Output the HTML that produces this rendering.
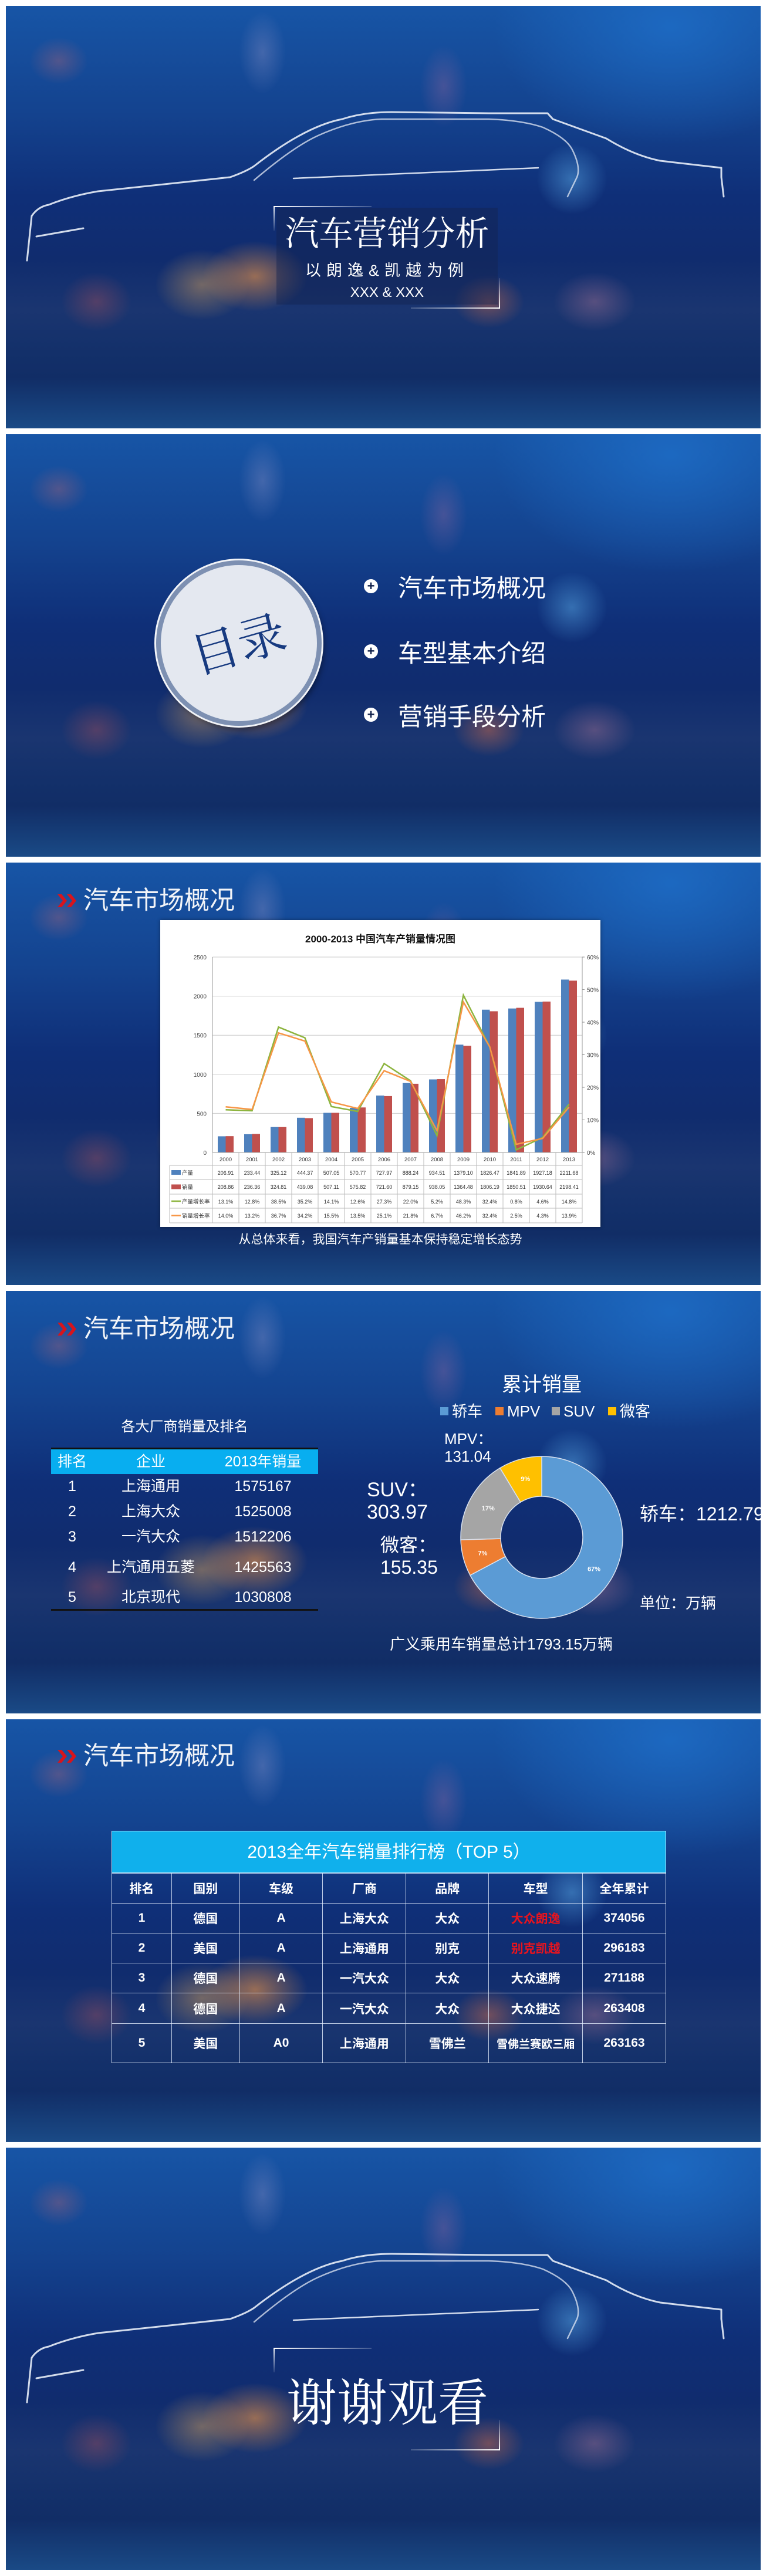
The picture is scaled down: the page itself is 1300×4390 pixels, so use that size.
<!DOCTYPE html>
<html><head><meta charset="utf-8">
<style>
*{margin:0;padding:0;box-sizing:border-box}
body{width:1300px;height:4390px;background:#fff;position:relative;overflow:hidden;font-family:"Liberation Sans","Noto Sans CJK SC",sans-serif;color:#fff}
.slide{position:absolute;left:10px;width:1286px;height:720px;overflow:hidden;
background:
radial-gradient(ellipse 90px 60px at 33% 64%, rgba(240,150,70,.6), rgba(240,150,70,0) 100%),
radial-gradient(ellipse 80px 60px at 26% 66%, rgba(230,170,90,.45), rgba(230,170,90,0) 100%),
radial-gradient(ellipse 60px 45px at 64% 70%, rgba(220,110,70,.45), rgba(220,110,70,0) 100%),
radial-gradient(ellipse 70px 50px at 78% 70%, rgba(180,120,150,.4), rgba(180,120,150,0) 100%),
radial-gradient(ellipse 60px 50px at 12% 70%, rgba(170,80,90,.4), rgba(170,80,90,0) 100%),
radial-gradient(ellipse 50px 40px at 7% 13%, rgba(170,100,120,.4), rgba(170,100,120,0) 100%),
radial-gradient(ellipse 40px 70px at 34% 11%, rgba(150,150,200,.35), rgba(150,150,200,0) 100%),
radial-gradient(ellipse 40px 70px at 58% 19%, rgba(180,110,160,.3), rgba(180,110,160,0) 100%),
radial-gradient(ellipse 60px 60px at 75% 41%, rgba(90,170,230,.5), rgba(90,170,230,0) 100%),
radial-gradient(ellipse 300px 200px at 88% 5%, rgba(30,110,200,.8), rgba(30,110,200,0) 100%),
linear-gradient(180deg,#1755a6 0%,#14438f 25%,#0f2f78 45%,#102c6e 60%,#1a3570 72%,#13306a 82%,#112d66 88%,#1a4a86 100%)}
.in{position:absolute;left:-10px;top:0;width:1300px;height:720px}
.abs{position:absolute}
.sec-title{position:absolute;left:96px;font-size:43px;line-height:50px;white-space:nowrap;color:#f2f4f8;display:flex;align-items:center}
.sec-title svg{margin-right:6px}
.toc-item{position:absolute;left:620px;height:50px;display:flex;align-items:center;font-size:42px}
.toc-dot{width:24px;height:24px;border-radius:50%;background:#fff;color:#10204a;font-size:22px;line-height:24px;text-align:center;font-weight:bold;margin-right:34px}
table{border-collapse:collapse}
</style></head><body>

<!-- Slide 1 -->
<div class="slide" style="top:10px"><div class="in">
<svg class="abs" style="left:0;top:0" width="1300" height="720">
<g transform="translate(0,-10)" fill="none" stroke="#e8eef8" stroke-width="3" stroke-linecap="round" stroke-linejoin="round" opacity=".9">
<path d="M46 444 L54 368 Q65 352 83 349 Q120 334 167 326 L392 302 Q420 292 433 283 Q520 215 583 203 Q620 191 667 191 L833 193 L933 193 L942 203 L1033 236 Q1080 265 1125 274 L1229 286 L1229 302 L1233 335"/>
<path d="M433 307 Q500 250 542 231 Q600 205 650 203 L833 203 Q890 205 925 217 Q965 235 975 255 Q990 285 983 302 L967 335" stroke-width="2.5" opacity=".8"/>
<path d="M500 304 Q700 295 917 286" stroke-width="2.5"/>
<path d="M62 403 L142 389" stroke-width="3"/>
</g></svg>
<div class="abs" style="left:471px;top:344px;width:377px;height:165px;background:rgba(20,35,80,.45)"></div>
<div class="abs" style="left:467px;top:341px;width:166px;height:2px;background:linear-gradient(90deg,#fff,rgba(255,255,255,.2))"></div>
<div class="abs" style="left:466px;top:341px;width:2px;height:42px;background:linear-gradient(180deg,#fff,rgba(255,255,255,.1))"></div>
<div class="abs" style="left:850px;top:464px;width:2px;height:52px;background:linear-gradient(0deg,#fff,rgba(255,255,255,.1))"></div>
<div class="abs" style="left:700px;top:514px;width:152px;height:2px;background:linear-gradient(270deg,#fff,rgba(255,255,255,.2))"></div>
<div class="abs" style="left:471px;top:356px;width:377px;text-align:center;font-family:'Liberation Serif','Noto Serif CJK SC',serif;font-size:58px;line-height:66px">汽车营销分析</div>
<div class="abs" style="left:471px;top:434px;width:377px;text-align:center;font-size:27px;line-height:34px;letter-spacing:9px">以朗逸&amp;凯越为例</div>
<div class="abs" style="left:471px;top:475px;width:377px;text-align:center;font-size:24px;line-height:28px">XXX &amp; XXX</div>
</div></div>

<!-- Slide 2 -->
<div class="slide" style="top:740px"><div class="in">
<div class="abs" style="left:266px;top:215px;width:282px;height:282px;border-radius:50%;background:#e4e8f0;border:8px solid #7d90b2;box-shadow:0 0 0 3px #f2f4f8,4px 6px 10px rgba(0,0,0,.4)"></div>
<div class="abs" style="left:307px;top:315px;width:200px;text-align:center;font-family:'Liberation Serif','Noto Serif CJK SC',serif;font-size:82px;line-height:90px;color:#173a80;transform:rotate(-16deg)">目录</div>
<div class="toc-item" style="top:234px"><span class="toc-dot">+</span>汽车市场概况</div>
<div class="toc-item" style="top:345px"><span class="toc-dot">+</span>车型基本介绍</div>
<div class="toc-item" style="top:453px"><span class="toc-dot">+</span>营销手段分析</div>
</div></div>

<!-- Slide 3 -->
<div class="slide" style="top:1470px"><div class="in">
<div class="sec-title" style="top:40px"><svg width="40" height="30"><path d="M2 4 L11 15 L2 26 L9 26 L18 15 L9 4Z M18 4 L27 15 L18 26 L25 26 L34 15 L25 4Z" fill="#d8141c"/></svg>汽车市场概况</div>
<div class="abs" style="left:273px;top:98px;width:750px;height:523px;background:#fff;box-shadow:0 0 6px rgba(0,0,0,.4)"></div>
<svg id="chart" class="abs" style="left:0;top:0" width="1300" height="720"></svg>
<div class="abs" style="left:273px;top:628px;width:750px;text-align:center;font-size:21px;line-height:30px">从总体来看，我国汽车产销量基本保持稳定增长态势</div>
</div></div>

<!-- Slide 4 -->
<div class="slide" style="top:2200px"><div class="in">
<div class="sec-title" style="top:40px"><svg width="40" height="30"><path d="M2 4 L11 15 L2 26 L9 26 L18 15 L9 4Z M18 4 L27 15 L18 26 L25 26 L34 15 L25 4Z" fill="#d8141c"/></svg>汽车市场概况</div>
<div class="abs" style="left:87px;top:216px;width:455px;text-align:center;font-size:24px;line-height:32px">各大厂商销量及排名</div>
<div class="abs" style="left:87px;top:267px;width:455px;height:3px;background:#111"></div>
<div class="abs" style="left:87px;top:270px;width:455px;height:42px;background:#08aef0"></div>
<div class="abs" style="left:87px;top:542px;width:455px;height:3px;background:#111"></div>
<div id="makerRows" style="font-size:25px"></div>
<svg id="donut" class="abs" style="left:0;top:0" width="1300" height="720"></svg>
<div class="abs" style="left:823px;top:140px;width:200px;text-align:center;font-size:34px;line-height:40px">累计销量</div>
<div class="abs" style="left:664px;top:586px;width:480px;font-size:26px;line-height:32px;white-space:nowrap">广义乘用车销量总计1793.15万辆</div>
<div class="abs" style="left:1090px;top:516px;font-size:26px;line-height:32px;white-space:nowrap">单位：万辆</div>
</div></div>

<!-- Slide 5 -->
<div class="slide" style="top:2930px"><div class="in">
<div class="sec-title" style="top:38px"><svg width="40" height="30"><path d="M2 4 L11 15 L2 26 L9 26 L18 15 L9 4Z M18 4 L27 15 L18 26 L25 26 L34 15 L25 4Z" fill="#d8141c"/></svg>汽车市场概况</div>
<div class="abs" style="left:190px;top:190px;width:945px;height:72px;background:#10b0ec;border:1px solid #bfe6fa;text-align:center;font-size:30px;line-height:72px">2013全年汽车销量排行榜（TOP 5）</div>
<table class="abs" style="left:190px;top:262px;width:945px;font-size:21px;font-weight:bold;text-align:center">
<colgroup><col style="width:102px"><col style="width:116px"><col style="width:142px"><col style="width:142px"><col style="width:141px"><col style="width:160px"><col style="width:142px"></colgroup>
<tbody id="top5body"></tbody></table>
</div></div>

<!-- Slide 6 -->
<div class="slide" style="top:3660px"><div class="in">
<svg class="abs" style="left:0;top:0" width="1300" height="720">
<g transform="translate(0,-10)" fill="none" stroke="#e8eef8" stroke-width="3" stroke-linecap="round" stroke-linejoin="round" opacity=".9">
<path d="M46 444 L54 368 Q65 352 83 349 Q120 334 167 326 L392 302 Q420 292 433 283 Q520 215 583 203 Q620 191 667 191 L833 193 L933 193 L942 203 L1033 236 Q1080 265 1125 274 L1229 286 L1229 302 L1233 335"/>
<path d="M433 307 Q500 250 542 231 Q600 205 650 203 L833 203 Q890 205 925 217 Q965 235 975 255 Q990 285 983 302 L967 335" stroke-width="2.5" opacity=".8"/>
<path d="M500 304 Q700 295 917 286" stroke-width="2.5"/>
<path d="M62 403 L142 389" stroke-width="3"/>
</g></svg>
<div class="abs" style="left:467px;top:341px;width:166px;height:2px;background:linear-gradient(90deg,#fff,rgba(255,255,255,.2))"></div>
<div class="abs" style="left:466px;top:341px;width:2px;height:42px;background:linear-gradient(180deg,#fff,rgba(255,255,255,.1))"></div>
<div class="abs" style="left:850px;top:464px;width:2px;height:52px;background:linear-gradient(0deg,#fff,rgba(255,255,255,.1))"></div>
<div class="abs" style="left:700px;top:514px;width:152px;height:2px;background:linear-gradient(270deg,#fff,rgba(255,255,255,.2))"></div>
<div class="abs" style="left:440px;top:384px;width:440px;text-align:center;font-family:'Liberation Serif','Noto Serif CJK SC',serif;font-size:86px;line-height:104px">谢谢观看</div>
</div></div>

<script>
// ---- Chart data (slide 3) ----
const years = ["2000","2001","2002","2003","2004","2005","2006","2007","2008","2009","2010","2011","2012","2013"];
const production = [206.91,233.44,325.12,444.37,507.05,570.77,727.97,888.24,934.51,1379.10,1826.47,1841.89,1927.18,2211.68];
const sales = [208.86,236.36,324.81,439.08,507.11,575.82,721.60,879.15,938.05,1364.48,1806.19,1850.51,1930.64,2198.41];
const prodGrowth = [13.1,12.8,38.5,35.2,14.1,12.6,27.3,22.0,5.2,48.3,32.4,0.8,4.6,14.8];
const salesGrowth = [14.0,13.2,36.7,34.2,15.5,13.5,25.1,21.8,6.7,46.2,32.4,2.5,4.3,13.9];
const leftTicks = [0,500,1000,1500,2000,2500];
const rightTicks = [0,10,20,30,40,50,60];

const NS = "http://www.w3.org/2000/svg";
function mk(parent, tag, attrs, text){
  const e = document.createElementNS(NS, tag);
  for (const k in attrs) e.setAttribute(k, attrs[k]);
  if (text !== undefined) e.textContent = text;
  parent.appendChild(e);
  return e;
}
(function(){
  const svg = document.getElementById('chart');
  const X0 = 362, X1 = 992, YT = 161, YB = 494, LMAX = 2500, RMAX = 60;
  const band = (X1 - X0) / years.length;
  const yL = v => YB - v / LMAX * (YB - YT);
  const yR = v => YB - v / RMAX * (YB - YT);
  const cx = i => X0 + (i + 0.5) * band;
  const t = mk(svg, 'text', {x:648, y:136, 'text-anchor':'middle', 'font-size':17, 'font-weight':'bold', fill:'#111'}, '2000-2013 中国汽车产销量情况图');
  
  
  leftTicks.forEach(v => {
    const g = mk(svg, 'line', {x1:X0, x2:X1, y1:yL(v), y2:yL(v), stroke:'#c8c8c8', 'stroke-width':1});
    
    
    const l = mk(svg, 'text', {x:352, y:yL(v)+4, 'text-anchor':'end', 'font-size':10, fill:'#444'}, String(v));
    
    
  });
  rightTicks.forEach(v => {
    mk(svg, 'line', {x1:X1, x2:X1+4, y1:yR(v), y2:yR(v), stroke:'#888'});
    const l = mk(svg, 'text', {x:1000, y:yR(v)+4, 'font-size':10, fill:'#444'}, v + '%');
    
    
  });
  mk(svg, 'line', {x1:X0, x2:X0, y1:YT, y2:YB, stroke:'#999'});
  mk(svg, 'line', {x1:X1, x2:X1, y1:YT, y2:YB, stroke:'#999'});
  years.forEach((y, i) => {
    const bw = 13.5;
    const b1 = mk(svg, 'rect', {x:cx(i)-bw, y:yL(production[i]), width:bw, height:YB-yL(production[i]), fill:'#4f81bd'});
    
    
    const b2 = mk(svg, 'rect', {x:cx(i), y:yL(sales[i]), width:bw, height:YB-yL(sales[i]), fill:'#c0504d'});
    
    
  });
  const pp = prodGrowth.map((v,i) => cx(i) + ',' + yR(v)).join(' ');
  const l1 = mk(svg, 'polyline', {points:pp, fill:'none', stroke:'#8db43e', 'stroke-width':2.5});
  
  
  const sp = salesGrowth.map((v,i) => cx(i) + ',' + yR(v)).join(' ');
  const l2 = mk(svg, 'polyline', {points:sp, fill:'none', stroke:'#f79646', 'stroke-width':2.5});
  
  
  const TL = 289, rowsY = [516, 540, 565, 589, 614];
  mk(svg, 'line', {x1:X0, x2:X1, y1:YB, y2:YB, stroke:'#999'});
  for (let i = 0; i <= years.length; i++) mk(svg, 'line', {x1:X0+i*band, x2:X0+i*band, y1:YB, y2:614, stroke:'#bbb'});
  rowsY.forEach(y => mk(svg, 'line', {x1:TL, x2:X1, y1:y, y2:y, stroke:'#bbb'}));
  mk(svg, 'line', {x1:TL, x2:TL, y1:516, y2:614, stroke:'#bbb'});
  years.forEach((y, i) => {
    const yl = mk(svg, 'text', {x:cx(i), y:509, 'text-anchor':'middle', 'font-size':9.5, fill:'#333'}, y);
    
    
    mk(svg, 'text', {x:cx(i), y:532, 'text-anchor':'middle', 'font-size':9, fill:'#333'}, production[i].toFixed(2));
    mk(svg, 'text', {x:cx(i), y:556, 'text-anchor':'middle', 'font-size':9, fill:'#333'}, sales[i].toFixed(2));
    mk(svg, 'text', {x:cx(i), y:581, 'text-anchor':'middle', 'font-size':9, fill:'#333'}, prodGrowth[i].toFixed(1) + '%');
    mk(svg, 'text', {x:cx(i), y:605, 'text-anchor':'middle', 'font-size':9, fill:'#333'}, salesGrowth[i].toFixed(1) + '%');
  });
  const leg = [['产量','#4f81bd','box'],['销量','#c0504d','box'],['产量增长率','#8db43e','line'],['销量增长率','#f79646','line']];
  leg.forEach((L, k) => {
    const yc = 528 + k*24.5;
    if (L[2] === 'box') mk(svg, 'rect', {x:292, y:yc-4, width:16, height:8, fill:L[1]});
    else mk(svg, 'line', {x1:292, x2:308, y1:yc, y2:yc, stroke:L[1], 'stroke-width':2.5});
    const lt = mk(svg, 'text', {x:310, y:yc+4, 'font-size':9.5, fill:'#333'}, L[0]);
    
    
  });
})();

// ---- Maker ranking table (slide 4) ----
const makerNames = ["上海通用","上海大众","一汽大众","上汽通用五菱","北京现代"];
const makerSales = [1575167,1525008,1512206,1425563,1030808];
(function(){
  const host = document.getElementById('makerRows');
  const hdr = [['排名',123],['企业',257],['2013年销量',448]];
  hdr.forEach(h => {
    const d = document.createElement('div');
    
    
    d.className = 'abs';
    d.style.cssText = 'left:' + (h[1]-100) + 'px;top:272px;width:200px;text-align:center;font-size:25px;line-height:38px';
    d.textContent = h[0];
    host.appendChild(d);
  });
  const ys = [333,376,419,471,522];
  makerNames.forEach((n, i) => {
    [[String(i+1),123],[n,257],[String(makerSales[i]),448]].forEach(c => {
      const d = document.createElement('div');
      
      
      d.className = 'abs';
      d.style.cssText = 'left:' + (c[1]-100) + 'px;top:' + (ys[i]-18) + 'px;width:200px;text-align:center;font-size:25px;line-height:36px';
      d.textContent = c[0];
      host.appendChild(d);
    });
  });
})();

// ---- Donut data (slide 4) ----
const segNames = ["轿车","MPV","SUV","微客"];
const segValues = [1212.79,131.04,303.97,155.35];
const segColors = ["#5b9bd5","#ed7d31","#a5a5a5","#ffc000"];
(function(){
  const svg = document.getElementById('donut');
  const CX = 923, CY = 420, RO = 138, RI = 70;
  const total = segValues.reduce((a,b)=>a+b,0);
  let a0 = -Math.PI/2;
  const pt = (r,a) => [CX + r*Math.cos(a), CY + r*Math.sin(a)];
  segValues.forEach((v, i) => {
    const a1 = a0 + v/total*2*Math.PI;
    const large = (a1-a0) > Math.PI ? 1 : 0;
    const p1 = pt(RO,a0), p2 = pt(RO,a1), p3 = pt(RI,a1), p4 = pt(RI,a0);
    const d = `M${p1} A${RO},${RO} 0 ${large} 1 ${p2} L${p3} A${RI},${RI} 0 ${large} 0 ${p4} Z`;
    const s = mk(svg, 'path', {d:d, fill:segColors[i], stroke:'#d9e2f0', 'stroke-width':1.5});
    
    
    const am = (a0+a1)/2, lp = pt((RO+RI)/2, am);
    const pl = mk(svg, 'text', {x:lp[0], y:lp[1]+4, 'text-anchor':'middle', 'font-size':11, 'font-weight':'bold', fill:'#fff'}, Math.round(v/total*100) + '%');
    
    
    a0 = a1;
  });
  let lx = 750;
  segNames.forEach((n, i) => {
    mk(svg, 'rect', {x:lx, y:198, width:14, height:14, fill:segColors[i]});
    const t = mk(svg, 'text', {x:lx+20, y:214, 'font-size':26, fill:'#fff'}, n);
    
    
    lx += 20 + (n.length === 2 ? 58 : 60) + 16;
  });
  const labels = [[segNames[1]+'：',757,252,26],[String(segValues[1].toFixed(2)),757,282,26],
    [segNames[2]+'：',625,338,34],[String(segValues[2].toFixed(2)),625,376,34],
    [segNames[3]+'：',648,433,32],[String(segValues[3].toFixed(2)),648,471,32],
    [segNames[0]+'：'+segValues[0].toFixed(2),1090,380,32]];
  labels.forEach(L => {
    const t = mk(svg, 'text', {x:L[1], y:L[2]+L[3]*0.35, 'font-size':L[3], fill:'#fff'}, L[0]);
    
    
  });
})();

// ---- Top 5 table (slide 5) ----
const top5Header = ["排名","国别","车级","厂商","品牌","车型","全年累计"];
const top5Rows = [
 ["1","德国","A","上海大众","大众","大众朗逸","374056"],
 ["2","美国","A","上海通用","别克","别克凯越","296183"],
 ["3","德国","A","一汽大众","大众","大众速腾","271188"],
 ["4","德国","A","一汽大众","大众","大众捷达","263408"],
 ["5","美国","A0","上海通用","雪佛兰","雪佛兰赛欧三厢","263163"]];
(function(){
  const tb = document.getElementById('top5body');
  const heights = [51,51,51,51,52,67];
  [top5Header].concat(top5Rows).forEach((r, i) => {
    const tr = document.createElement('tr');
    
    
    tr.style.height = heights[i] + 'px';
    r.forEach((c, j) => {
      const td = document.createElement('td');
      td.style.cssText = 'border:1.5px solid rgba(230,240,255,.8);padding:0;white-space:nowrap';
      if (i > 0 && j === 5 && i <= 2) td.style.color = '#e8141e';
      if (j === 5 && i === 5) td.style.fontSize = '19px';
      td.textContent = c;
      tr.appendChild(td);
    });
    tb.appendChild(tr);
  });
})();
</script>
</body></html>
